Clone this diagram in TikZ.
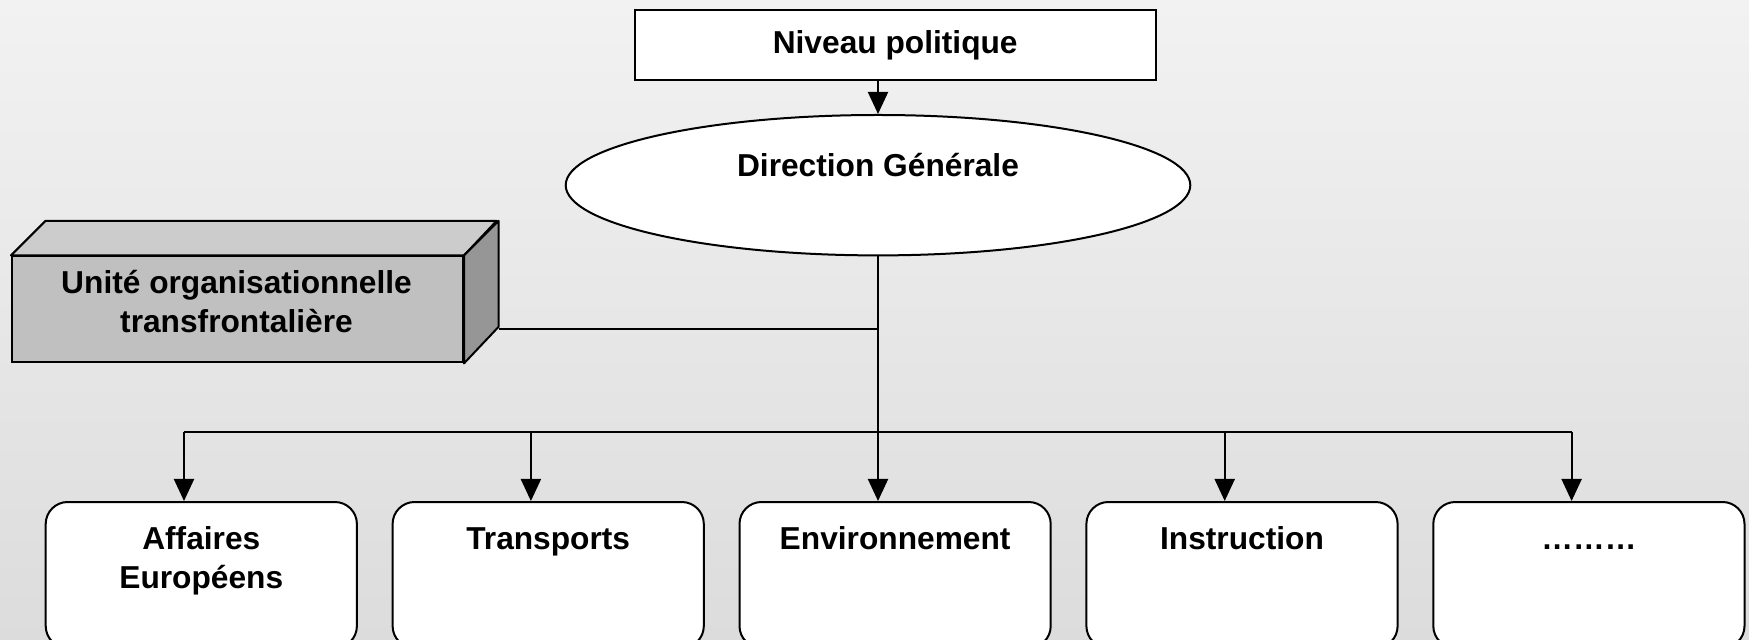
\documentclass[tikz,border=0pt]{standalone}
\usepackage{fontspec}
\setmainfont{Liberation Sans}
\usetikzlibrary{arrows.meta,calc,shapes.geometric}
\definecolor{bgtop}{RGB}{242,242,242}
\definecolor{bgbot}{RGB}{220,220,220}
\definecolor{cubefront}{RGB}{192,192,192}
\definecolor{cubetop}{RGB}{204,204,204}
\definecolor{cubeside}{RGB}{150,150,150}
\begin{document}
\begin{tikzpicture}[x=0.5pt,y=-0.5pt,
  every node/.style={font=\bfseries\fontsize{15.85pt}{19.5pt}\selectfont},
  line/.style={draw=black,line width=1pt},
  arr/.style={line,-{Triangle[length=11pt,width=10pt]}},
  unitbox/.style={draw=black,line width=1pt,fill=white,rounded corners=11pt,minimum width=155.6pt,minimum height=73pt,inner sep=0pt},
  txt/.style={anchor=base,inner sep=0pt,align=center}]
\useasboundingbox (0,0) rectangle (1749,640);
\shade[top color=bgtop,bottom color=bgbot] (0,0) rectangle (1749,640);
\clip (0,0) rectangle (1749,640);

% top box
\node[draw=black,line width=1pt,fill=white,minimum width=260.5pt,minimum height=35pt,inner sep=0pt] (niv) at (895.2,45.2) {Niveau politique};

% ellipse
\node[ellipse,draw=black,line width=1pt,fill=white,minimum width=312.3pt,minimum height=70.2pt,inner sep=0pt] (dg) at (878,185.2) {};
\node[txt] (dgt) at (878,176.4) {Direction Générale};

% cube
\node[draw=black,line width=1pt,fill=cubefront,minimum width=225.5pt,minimum height=53pt,inner sep=0pt,anchor=north west] (uo) at (11,255.4) {};
\draw[line,fill=cubetop,line join=round] (uo.north west) -- ++(34.6,-34.6) -- ++(451,0) -- (uo.north east) -- cycle;
\draw[line,fill=cubeside,line join=round] (uo.north east) -- ++(34.6,-34.6) -- ++(0,106) -- (uo.south east) -- cycle;
\coordinate (uoc) at ($(uo.south east)+(34.6,-34.6)$);
\node[txt] (uot) at (236.5,332.4) {Unité organisationnelle\\transfrontalière};

% bottom boxes
\node[unitbox] (b1) at (201.3,575) {};
\node[unitbox] (b2) at (548.2,575) {};
\node[unitbox] (b3) at (895.1,575) {};
\node[unitbox] (b4) at (1242.0,575) {};
\node[unitbox] (b5) at (1588.9,575) {};
\node[txt] (t1) at ($(b1.north)+(0,87)$) {Affaires\\Européens};
\node[txt] (t2) at ($(b2.north)+(0,48)$) {Transports};
\node[txt] (t3) at ($(b3.north)+(0,48)$) {Environnement};
\node[txt] (t4) at ($(b4.north)+(0,48)$) {Instruction};
\node[txt] (t5) at ($(b5.north)+(0,48)$) {………};

\foreach \i in {1,...,5}{\coordinate (a\i) at ($(b\i.north)+(-17.3,0)$);}
\coordinate (bus) at (878,431.7);

% connectors
\draw[arr] (niv.south -| dg.north) -- (dg.north);
\draw[arr] (dg.south) -- (dg.south |- b3.north);
\draw[line] (dg.south |- uoc) -- (uoc);
\draw[line] (a1 |- bus) -- (a5 |- bus);
\foreach \i in {1,2,4,5}{\draw[arr] (a\i |- bus) -- (a\i);}
\end{tikzpicture}
\end{document}
